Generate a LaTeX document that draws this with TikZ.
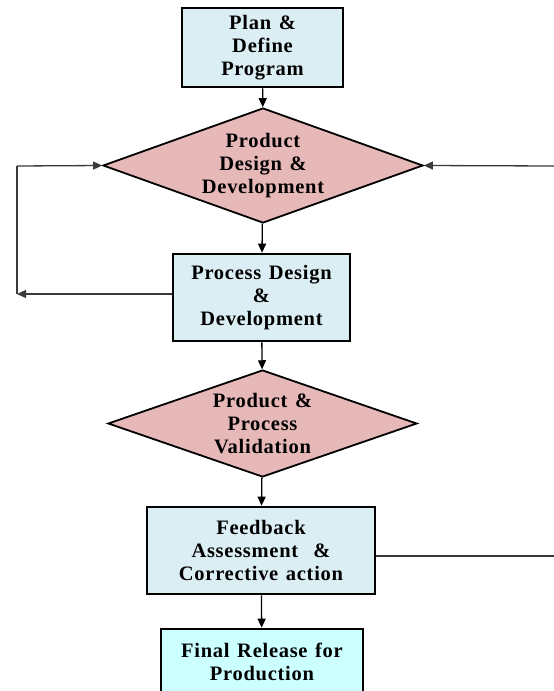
\documentclass[tikz,border=0pt]{standalone}
\usepackage{fontspec}
\setmainfont[LetterSpace=3.5,WordSpace=1.3]{Liberation Serif}
\usetikzlibrary{shapes.geometric,arrows.meta}
\definecolor{boxblue}{HTML}{DBEEF4}
\definecolor{diapink}{HTML}{E6B8B7}
\definecolor{finalcyan}{HTML}{CCFFFF}
\definecolor{linegray}{HTML}{3A3A3A}
\tikzset{
  txtstyle/.style={font=\fontsize{20.5bp}{23bp}\selectfont\bfseries, align=center, text=black},
  stepbox/.style={txtstyle, draw=black, line width=2.6bp, fill=boxblue, inner sep=0pt},
  finalbox/.style={stepbox, fill=finalcyan},
  decision/.style={txtstyle, diamond, draw=black, line width=1.8bp, fill=diapink, inner sep=0pt},
  conn/.style={line width=1.3bp, draw=black, -{Triangle[length=9bp,width=8bp]}},
  plainconn/.style={line width=1.3bp, draw=linegray},
}
\begin{document}
\begin{tikzpicture}[x=1bp,y=-1bp]
\clip (0,0) rectangle (554,691);
\fill[white] (0,0) rectangle (554,691);

\node[stepbox, minimum width=161bp, minimum height=79bp] (p1) at (262.5,47.5) {Plan \&\\Define\\Program};
\node[decision, aspect=2.78, minimum width=320bp, minimum height=115bp] (d1) at (263,165.5) {Product\\Design \&\\Development};
\node[stepbox, minimum width=177bp, minimum height=87bp] (b2) at (261.5,297.5) {Process Design\\\&\\Development};
\node[decision, aspect=2.89, minimum width=309bp, minimum height=107bp] (d2) at (262.5,423.5) {Product \&\\Process\\Validation};
\node[stepbox, minimum width=228bp, minimum height=87bp] (b5) at (261,550.5) {Feedback\\Assessment \ \&\\Corrective action};
\node[finalbox, minimum width=202bp, minimum height=66bp] (b6) at (262,662) {Final Release for\\Production};

\coordinate (lb) at (17,294);
\coordinate (lt) at (17,166);
\coordinate (rb) at (554,556);
\coordinate (rt) at (554,166);

\draw[conn] (p1) -- (d1);
\draw[conn] (d1) -- (b2);
\draw[conn] (b2) -- (d2);
\draw[conn] (d2) -- (b5);
\draw[conn] (b5) -- (b6);

\draw[conn, draw=linegray] (b2.west |- lb) -- (lb);
\draw[plainconn] (lb) -- (lt);
\draw[conn, draw=linegray] (lt) -- (d1.west);

\draw[plainconn] (b5.east |- rb) -- (rb);
\draw[conn, draw=linegray] (rt) -- (d1.east);
\end{tikzpicture}
\end{document}
